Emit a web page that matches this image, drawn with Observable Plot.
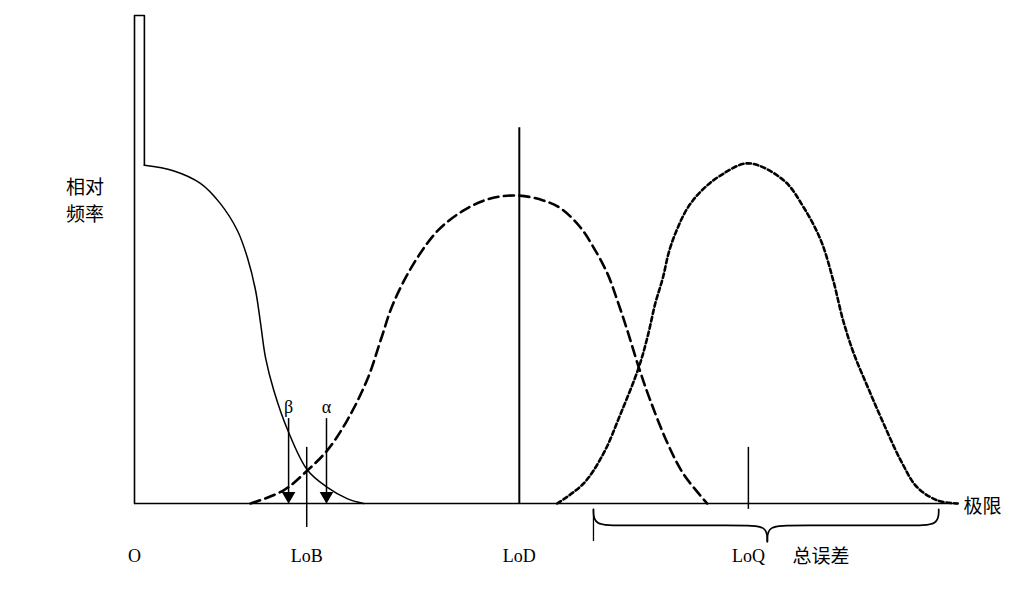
<!DOCTYPE html>
<html><head><meta charset="utf-8">
<script src="https://cdn.jsdelivr.net/npm/d3@7"></script>
<script src="https://cdn.jsdelivr.net/npm/@observablehq/plot@0.6"></script>
<style>body{margin:0;background:#fff} #chart svg{display:block}</style>
</head><body><div id="chart"></div>
<script>
// Blank-sample distribution (solid)
const blankX = [1.2, 4.7, 8.0, 10.4, 12.5, 13.7, 14.7, 15.3, 15.9, 16.9, 18.6, 21.0, 23.4, 25.8, 27.8];
const blankY = [69.3, 68.2, 65.6, 61.5, 55.9, 50.4, 43.6, 36.9, 29.9, 23.2, 15.0, 6.8, 3.3, 1.0, 0];
// Blank spike at zero
const spikeX = [0, 0, 1.2, 1.2];
const spikeY = [0, 100, 100, 69.3];
// Low-level sample distribution at LoD (dashed)
const lodX = [14.1, 18.1, 21.0, 23.4, 25.8, 28.3, 29.9, 31.4, 33.9, 36.8, 39.9, 43.2, 46.6, 49.6, 51.7, 54.1, 55.7, 57.4, 58.6, 59.8, 61.2, 62.6, 64.7, 66.6, 69.5];
const lodY = [0, 2.7, 6.8, 10.9, 17.0, 25.6, 33.6, 41.0, 49.2, 55.9, 60.0, 62.5, 63.1, 62.1, 60.5, 56.6, 52.5, 47.1, 41.6, 35.5, 27.9, 21.1, 12.3, 6.1, 0];
// Sample distribution at LoQ (dotted)
const loqX = [51.3, 54.5, 56.9, 59.0, 61.2, 62.3, 63.2, 64.1, 64.9, 65.9, 67.1, 68.7, 71.1, 74.5, 78.8, 81.2, 83.3, 84.8, 86.0, 87.3, 89.0, 90.9, 93.0, 95.0, 97.5, 99.9];
const loqY = [0, 4.1, 10.2, 18.4, 27.9, 34.4, 41.0, 46.1, 51.8, 56.4, 60.5, 63.9, 67.2, 69.7, 66.2, 60.7, 53.9, 45.7, 37.5, 30.7, 23.8, 16.4, 8.8, 3.3, 0.6, 0];
// Limits
const limitLabels = ["O", "LoB", "LoD", "LoQ"];
const limitX = [0, 20.9, 46.7, 74.5];
const lodLineTop = 77;
const tickTop = 11.5;
// Error arrows
const errorLabels = ["β", "α"];
const errorX = [18.7, 23.3];
const arrowTop = 17.4;
// Total error brace
const totalErrorLabel = "总误差";
const totalErrorRange = [55.7, 97.6];
const braceTipX = 76.8;
// Axis labels
const yLabelLines = ["相对", "频率"];
const xAxisLabel = "极限";
const axisEnd = 100;

const zip = (xs, ys) => xs.map((x, i) => ({x, y: ys[i]}));

// brace geometry (y in data units below the axis)
const bTop = -1.2, bMid = -4.5, bTip = -7.8, bR = 3.2;
const [b0, b1] = totalErrorRange;
const brace = [
  ...[[b0, bTop], [b0, bMid], [b0 + bR, bMid], [braceTipX - bR, bMid], [braceTipX, bMid], [braceTipX, bTip]].map(([x, y]) => ({x, y, z: "L"})),
  ...[[braceTipX, bTip], [braceTipX, bMid], [braceTipX + bR, bMid], [b1 - bR, bMid], [b1, bMid], [b1, bTop]].map(([x, y]) => ({x, y, z: "R"}))
];

const labelY = -10.9;
const serif = "'Liberation Serif', 'Times New Roman', serif";
const cjk = "'Noto Sans CJK SC', sans-serif";

const chart = Plot.plot({
  width: 1033,
  height: 590,
  marginLeft: 134,
  marginRight: 75,
  marginTop: 15,
  marginBottom: 87,
  x: {domain: [0, 100], axis: null},
  y: {domain: [0, 100], axis: null},
  style: {background: "#fff", fontFamily: serif, color: "#000"},
  marks: [
    // axes
    Plot.ruleY([0], {x1: 0, x2: axisEnd, stroke: "#000", strokeWidth: 1.6}),
    Plot.line(zip(spikeX, spikeY), {x: "x", y: "y", stroke: "#000", strokeWidth: 1.6, curve: "linear"}),
    // distributions
    Plot.line(zip(blankX, blankY), {x: "x", y: "y", stroke: "#000", strokeWidth: 1.5, curve: "catmull-rom"}),
    Plot.line(zip(lodX, lodY), {x: "x", y: "y", stroke: "#000", strokeWidth: 2.6, strokeDasharray: "10,5.5", curve: "catmull-rom"}),
    Plot.line(zip(loqX, loqY), {x: "x", y: "y", stroke: "#000", strokeWidth: 2.6, strokeDasharray: "4.5,3", curve: "catmull-rom"}),
    // limit lines
    Plot.ruleX([limitX[2]], {x: d => d, y1: 0, y2: lodLineTop, stroke: "#000", strokeWidth: 2}),
    Plot.ruleX([limitX[1]], {x: d => d, y1: bTop * 4.1, y2: tickTop, stroke: "#000", strokeWidth: 1.5}),
    Plot.ruleX([limitX[3]], {x: d => d, y1: bTop, y2: tickTop, stroke: "#000", strokeWidth: 1.5}),
    Plot.ruleX([b0], {x: d => d, y1: bTop, y2: bTip, stroke: "#000", strokeWidth: 1.3}),
    // arrows
    Plot.ruleX(errorX, {x: d => d, y1: 2, y2: arrowTop, stroke: "#000", strokeWidth: 1.5}),
    Plot.dot(errorX, {x: d => d, y: 0, symbol: "triangle2", rotate: 180, r: 6.5, fill: "#000", stroke: "none", dy: -7.5}),
    Plot.text(errorLabels, {x: (d, i) => errorX[i], y: arrowTop, text: d => d, dy: -11, fontSize: 18, fontFamily: serif}),
    // brace
    Plot.line(brace, {x: "x", y: "y", z: "z", stroke: "#000", strokeWidth: 1.7, curve: "basis"}),
    // labels
    Plot.text(limitLabels, {x: (d, i) => limitX[i], y: labelY, text: d => d, fontSize: 18, fontFamily: serif}),
    Plot.text([totalErrorLabel], {x: 83.3, y: labelY, text: d => d, fontSize: 19, fontFamily: cjk}),
    Plot.text([xAxisLabel], {x: axisEnd, y: 0, text: d => d, textAnchor: "start", dx: 5, dy: 3, fontSize: 19, fontFamily: cjk}),
    Plot.text(yLabelLines, {x: -6, y: (d, i) => 64.6 - i * 5.5, text: d => d, fontSize: 19, fontFamily: cjk})
  ]
});
document.getElementById("chart").appendChild(chart);
</script>
</body></html>
